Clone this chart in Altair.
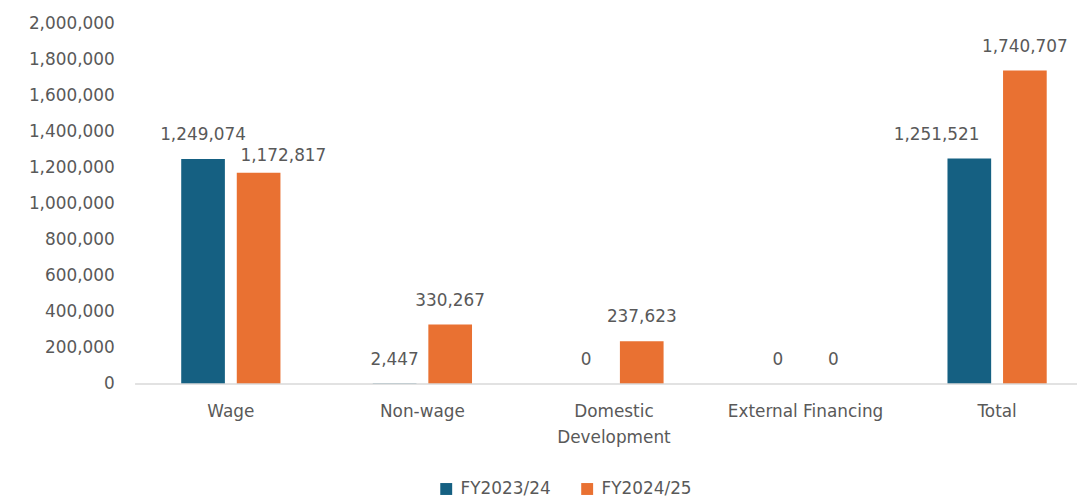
import altair as alt
import pandas as pd

categories = ["Wage", "Non-wage", "Domestic Development", "External Financing", "Total"]
series = ["FY2023/24", "FY2024/25"]
fy2023_24 = [1249074, 2447, 0, 0, 1251521]
fy2024_25 = [1172817, 330267, 237623, 0, 1740707]
y_ticks = [0, 200000, 400000, 600000, 800000, 1000000, 1200000, 1400000, 1600000, 1800000, 2000000]

rows = []
for c, a, b in zip(categories, fy2023_24, fy2024_25):
    rows.append({"category": c, "series": series[0], "value": a})
    rows.append({"category": c, "series": series[1], "value": b})
df = pd.DataFrame(rows)
base_df = pd.DataFrame({"value": [0]})

FONT = "DejaVu Sans"
TEXT = "#595959"
BLUE = "#156082"
ORANGE = "#E97132"
FS = 17

x_enc = alt.X(
    "category:N",
    sort=categories,
    scale=alt.Scale(range=[0, 965], paddingInner=0.482, paddingOuter=0.241),
    axis=alt.Axis(
        title=None, labelAngle=0, domain=False, ticks=False, tickSize=0,
        labelPadding=20, labelFontSize=FS, labelColor=TEXT, labelFont=FONT,
        labelLineHeight=26, labelLimit=400, labelOverlap=False,
        labelExpr="datum.value == 'Domestic Development' ? ['Domestic', 'Development'] : datum.value",
    ),
)
y_enc = alt.Y(
    "value:Q",
    scale=alt.Scale(domain=[0, 2000000], nice=False),
    axis=alt.Axis(
        title=None, values=y_ticks, format=",.0f", grid=False, domain=False,
        ticks=False, tickSize=0, labelPadding=21, labelFontSize=FS,
        labelColor=TEXT, labelFont=FONT, labelOverlap=False,
    ),
)
xo_enc = alt.XOffset("series:N", sort=series, scale=alt.Scale(paddingInner=0.214, paddingOuter=0))

bars = alt.Chart(df).mark_bar().encode(
    x=x_enc,
    xOffset=xo_enc,
    y=y_enc,
    color=alt.Color(
        "series:N",
        sort=series,
        scale=alt.Scale(domain=series, range=[BLUE, ORANGE]),
        legend=alt.Legend(
            title=None, orient="none", direction="horizontal",
            legendX=305, legendY=460, padding=0, offset=0,
            symbolType="square", symbolSize=144, symbolStrokeWidth=0,
            labelFontSize=FS, labelFont=FONT, labelColor=TEXT,
            labelOffset=6, columnPadding=28,
        ),
    ),
)

baseline = alt.Chart(base_df).mark_rule(color="#d9d9d9", strokeWidth=1.5).encode(y=y_enc)

text_base = alt.Chart(df).encode(
    x=x_enc,
    xOffset=xo_enc,
    y=y_enc,
    text=alt.Text("value:Q", format=",.0f"),
)
special = "(datum.category == 'Wage' && datum.series == 'FY2024/25') || (datum.category == 'Total' && datum.series == 'FY2023/24')"
text_props = dict(font=FONT, fontSize=FS, color=TEXT, baseline="middle", align="center")

labels = text_base.transform_filter("!(" + special + ")").mark_text(dy=-24, **text_props)
label_wage = text_base.transform_filter(
    "datum.category == 'Wage' && datum.series == 'FY2024/25'"
).mark_text(dx=25, dy=-17, **text_props)
label_total = text_base.transform_filter(
    "datum.category == 'Total' && datum.series == 'FY2023/24'"
).mark_text(dx=-33, dy=-24, **text_props)

chart = alt.layer(bars, baseline, labels, label_wage, label_total).properties(
    width=949,
    height=363,
    autosize=alt.AutoSizeParams(type="none"),
    padding={"left": 128, "top": 14, "right": 0, "bottom": 116},
).configure_view(stroke=None)

chart.save("out.html", embed_options={"renderer": "svg", "actions": False})
